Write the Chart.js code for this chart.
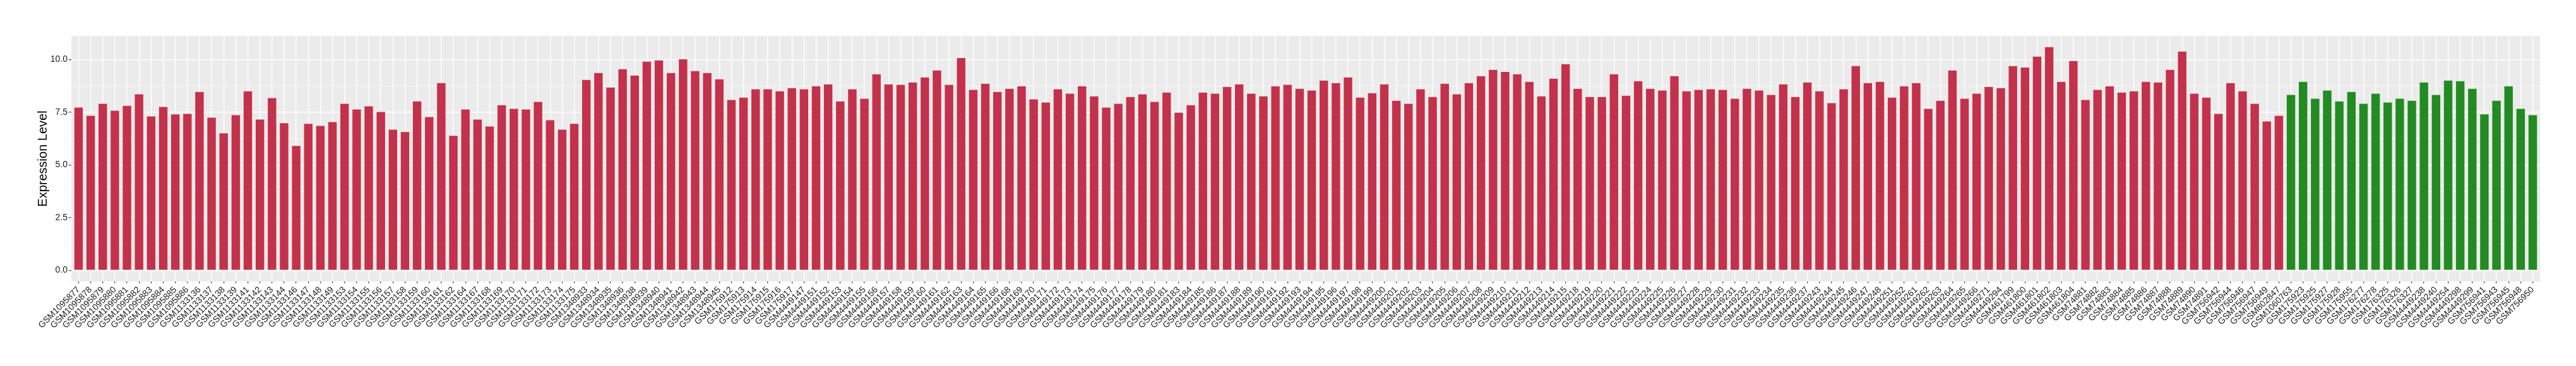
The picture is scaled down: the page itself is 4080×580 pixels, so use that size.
<!DOCTYPE html>
<html>
<head>
<meta charset="utf-8">
<script src="https://cdn.jsdelivr.net/npm/chart.js@4/dist/chart.umd.min.js"></script>
<style>
html,body{margin:0;padding:0;background:#fff;}
#wrap{width:4080px;height:580px;}
</style>
</head>
<body>
<div id="wrap"><canvas id="c" width="4080" height="580"></canvas></div>
<script>
const samples = [
"GSM1095877","GSM1095878","GSM1095879","GSM1095880","GSM1095881","GSM1095882","GSM1095883","GSM1095884","GSM1095885","GSM1095886",
"GSM1133136","GSM1133137","GSM1133138","GSM1133139","GSM1133141","GSM1133142","GSM1133143","GSM1133144","GSM1133146","GSM1133147",
"GSM1133148","GSM1133149","GSM1133153","GSM1133154","GSM1133155","GSM1133156","GSM1133157","GSM1133158","GSM1133159","GSM1133160",
"GSM1133161","GSM1133162","GSM1133164","GSM1133167","GSM1133168","GSM1133169","GSM1133170","GSM1133171","GSM1133172","GSM1133173",
"GSM1133174","GSM1133175","GSM1348933","GSM1348934","GSM1348935","GSM1348936","GSM1348938","GSM1348939","GSM1348940","GSM1348941",
"GSM1348942","GSM1348943","GSM1348944","GSM1348945","GSM175912","GSM175913","GSM175914","GSM175915","GSM175916","GSM175917",
"GSM4449147","GSM4449151","GSM4449152","GSM4449153","GSM4449154","GSM4449155","GSM4449156","GSM4449157","GSM4449158","GSM4449159",
"GSM4449160","GSM4449161","GSM4449162","GSM4449163","GSM4449164","GSM4449165","GSM4449166","GSM4449168","GSM4449169","GSM4449170",
"GSM4449171","GSM4449172","GSM4449173","GSM4449174","GSM4449175","GSM4449176","GSM4449177","GSM4449178","GSM4449179","GSM4449180",
"GSM4449181","GSM4449183","GSM4449184","GSM4449185","GSM4449186","GSM4449187","GSM4449188","GSM4449189","GSM4449190","GSM4449191",
"GSM4449192","GSM4449193","GSM4449194","GSM4449195","GSM4449196","GSM4449197","GSM4449198","GSM4449199","GSM4449200","GSM4449201",
"GSM4449202","GSM4449203","GSM4449204","GSM4449205","GSM4449206","GSM4449207","GSM4449208","GSM4449209","GSM4449210","GSM4449211",
"GSM4449212","GSM4449213","GSM4449214","GSM4449215","GSM4449218","GSM4449219","GSM4449220","GSM4449221","GSM4449222","GSM4449223",
"GSM4449224","GSM4449225","GSM4449226","GSM4449227","GSM4449228","GSM4449229","GSM4449230","GSM4449231","GSM4449232","GSM4449233",
"GSM4449234","GSM4449235","GSM4449236","GSM4449237","GSM4449243","GSM4449244","GSM4449245","GSM4449246","GSM4449247","GSM4449248",
"GSM4449251","GSM4449252","GSM4449261","GSM4449262","GSM4449263","GSM4449264","GSM4449265","GSM4449266","GSM4449271","GSM4449294",
"GSM461799","GSM461800","GSM461801","GSM461802","GSM461803","GSM461804","GSM74881","GSM74882","GSM74883","GSM74884",
"GSM74885","GSM74886","GSM74887","GSM74888","GSM74889","GSM74890","GSM74891","GSM756942","GSM756944","GSM756946",
"GSM756947","GSM756949","GSM802847",
"GSM1060763","GSM175923","GSM175925","GSM175927","GSM175928","GSM175955","GSM176277","GSM176278","GSM176325","GSM176326",
"GSM176327","GSM4449238","GSM4449240","GSM4449254","GSM4449298","GSM4449299","GSM756941","GSM756943","GSM756945","GSM756948",
"GSM756950"
];

const expression = [
7.72,7.33,7.90,7.57,7.80,8.35,7.30,7.75,7.40,7.42,
8.46,7.24,6.50,7.36,8.49,7.15,8.17,6.98,5.90,6.95,
6.85,7.03,7.90,7.63,7.78,7.51,6.67,6.56,8.01,7.27,
8.88,6.38,7.63,7.15,6.82,7.83,7.66,7.63,7.99,7.12,
6.67,6.95,9.03,9.36,8.67,9.54,9.24,9.90,9.96,9.36,
10.01,9.45,9.36,9.06,8.08,8.19,8.59,8.59,8.49,8.64,
8.59,8.73,8.82,8.01,8.59,8.14,9.30,8.82,8.80,8.91,
9.15,9.48,8.80,10.07,8.56,8.85,8.46,8.61,8.73,8.11,
7.96,8.59,8.38,8.73,8.25,7.72,7.90,8.22,8.35,7.99,
8.43,7.48,7.83,8.43,8.38,8.70,8.82,8.38,8.25,8.73,
8.80,8.61,8.53,9.00,8.88,9.15,8.19,8.40,8.82,8.04,
7.90,8.59,8.22,8.85,8.35,8.88,9.21,9.51,9.41,9.30,
8.94,8.25,9.09,9.78,8.61,8.22,8.22,9.30,8.28,8.97,
8.61,8.53,9.21,8.49,8.56,8.59,8.56,8.14,8.61,8.53,
8.32,8.82,8.22,8.91,8.49,7.93,8.59,9.69,8.88,8.94,
8.19,8.73,8.88,7.66,8.04,9.48,8.14,8.38,8.70,8.64,
9.69,9.62,10.14,10.59,8.94,9.93,8.08,8.56,8.73,8.43,
8.49,8.94,8.91,9.51,10.38,8.38,8.19,7.42,8.88,8.49,
7.90,7.06,7.33,
8.32,8.94,8.14,8.53,8.01,8.46,7.90,8.38,7.96,8.14,
8.04,8.91,8.32,9.00,8.97,8.61,7.40,8.04,8.73,7.66,
7.36
];

const normalSamples = [
"GSM1060763","GSM175923","GSM175925","GSM175927","GSM175928","GSM175955","GSM176277","GSM176278","GSM176325","GSM176326",
"GSM176327","GSM4449238","GSM4449240","GSM4449254","GSM4449298","GSM4449299","GSM756941","GSM756943","GSM756945","GSM756948",
"GSM756950"
];

const yTicks = [0, 1.25, 2.5, 3.75, 5, 6.25, 7.5, 8.75, 10];
const yLabelTicks = [0, 2.5, 5, 7.5, 10];

const TUMOR_COLOR = '#c3314a';
const NORMAL_COLOR = '#228b22';
const barColors = samples.map(s => normalSamples.includes(s) ? NORMAL_COLOR : TUMOR_COLOR);
const points = samples.map((s, i) => ({ x: i, y: expression[i] }));

const FONT = "'Liberation Sans', Arial, Helvetica, sans-serif";

const panelBg = {
  id: 'panelBg',
  beforeDraw(chart) {
    const {ctx, chartArea: a} = chart;
    ctx.save();
    ctx.fillStyle = '#ebebeb';
    ctx.fillRect(a.left, a.top, a.right - a.left, a.bottom - a.top);
    ctx.restore();
  }
};

const isLabeled = v => yLabelTicks.some(t => Math.abs(t - v) < 1e-6);

new Chart(document.getElementById('c'), {
  type: 'bar',
  data: {
    datasets: [{
      data: points,
      backgroundColor: barColors,
      borderWidth: 0,
      barPercentage: 0.7,
      categoryPercentage: 1.0
    }]
  },
  options: {
    responsive: false,
    animation: false,
    devicePixelRatio: 1,
    layout: { padding: { top: 57, right: 57, left: 0, bottom: 0 } },
    plugins: { legend: { display: false }, tooltip: { enabled: false } },
    scales: {
      x: {
        type: 'linear',
        min: -0.6,
        max: samples.length - 0.4,
        offset: false,
        border: { display: false },
        afterBuildTicks(scale) { scale.ticks = samples.map((s, i) => ({ value: i })); },
        grid: {
          offset: false,
          color: '#ffffff',
          lineWidth: 1.4,
          drawTicks: true,
          tickLength: 3,
          tickColor: '#333333',
          tickWidth: 1.1
        },
        ticks: {
          autoSkip: false,
          maxRotation: 45,
          minRotation: 45,
          padding: 2,
          color: '#1a1a1a',
          font: { family: FONT, size: 14 },
          callback: v => samples[v] ?? ''
        },
        afterFit(scale) { scale.height = 134; }
      },
      y: {
        type: 'linear',
        min: -0.53,
        max: 11.12,
        border: { display: false },
        afterBuildTicks(scale) { scale.ticks = yTicks.map(v => ({ value: v })); },
        grid: {
          color: '#ffffff',
          lineWidth: ctx => isLabeled(ctx.tick.value) ? 1.4 : 0.7,
          tickLength: 4,
          tickColor: ctx => isLabeled(ctx.tick.value) ? '#333333' : 'rgba(0,0,0,0)',
          tickWidth: 1.1
        },
        ticks: {
          padding: 2,
          color: '#1a1a1a',
          font: { family: FONT, size: 14 },
          callback: v => isLabeled(v) ? v.toFixed(1) : ''
        },
        title: {
          display: true,
          text: 'Expression Level',
          color: '#000000',
          font: { family: FONT, size: 20 },
          padding: { top: 56, bottom: 0 }
        },
        afterFit(scale) { scale.width = 113; }
      }
    }
  },
  plugins: [panelBg]
});
</script>
</body>
</html>
